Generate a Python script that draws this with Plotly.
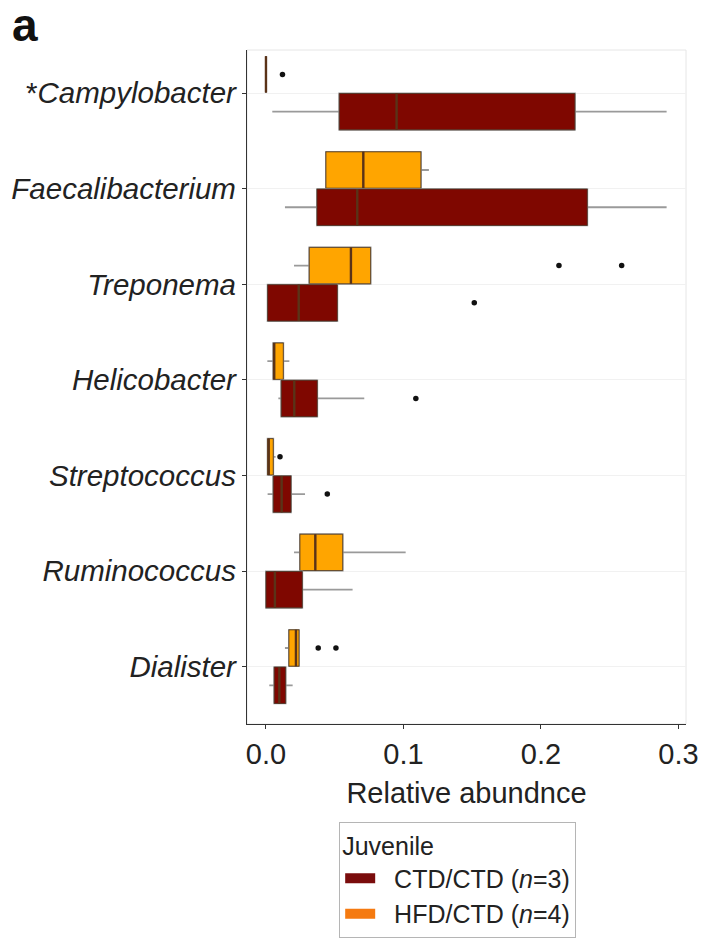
import plotly.graph_objects as go

# ---------------- data ----------------
genera = ["*Campylobacter", "Faecalibacterium", "Treponema", "Helicobacter",
          "Streptococcus", "Ruminococcus", "Dialister"]
x_tick_vals = [0.0, 0.1, 0.2, 0.3]
x_tick_text = ["0.0", "0.1", "0.2", "0.3"]

# CTD/CTD (n=3)
ctd_low = [0.0046, 0.0138, 0.0012, 0.0090, 0.0012, 0.0000, 0.0024]
ctd_q1 = [0.0533, 0.0371, 0.0012, 0.0111, 0.0053, 0.0000, 0.0060]
ctd_med = [0.0950, 0.0664, 0.0238, 0.0206, 0.0114, 0.0065, 0.0097]
ctd_q3 = [0.2247, 0.2337, 0.0519, 0.0373, 0.0182, 0.0264, 0.0143]
ctd_high = [0.2914, 0.2914, 0.0519, 0.0715, 0.0284, 0.0630, 0.0194]
ctd_out_genus = ["Treponema", "Helicobacter", "Streptococcus"]
ctd_out_val = [0.1515, 0.1090, 0.0446]

# HFD/CTD (n=4)
hfd_low = [0.0000, 0.0436, 0.0204, 0.0010, 0.0012, 0.0204, 0.0138]
hfd_q1 = [0.0000, 0.0436, 0.0315, 0.0053, 0.0012, 0.0247, 0.0167]
hfd_med = [0.0000, 0.0708, 0.0618, 0.0060, 0.0020, 0.0359, 0.0218]
hfd_q3 = [0.0000, 0.1127, 0.0761, 0.0126, 0.0053, 0.0558, 0.0240]
hfd_high = [0.0000, 0.1185, 0.0761, 0.0170, 0.0070, 0.1016, 0.0240]
hfd_out_genus = ["*Campylobacter", "Treponema", "Treponema", "Streptococcus",
                 "Dialister", "Dialister"]
hfd_out_val = [0.0120, 0.2131, 0.2587, 0.0102, 0.0380, 0.0509]

# ---------------- styling ----------------
FONT = "Liberation Sans, Arial, Helvetica, sans-serif"
CTD_FILL = "#7F0700"
HFD_FILL = "#FFA500"
CTD_LEG = "#7A0C0C"
HFD_LEG = "#F57A10"
WHISKER = "#9a9a9a"
OUTLINE = "#4a3526"
MEDIAN = "#5a3318"
BOX_W = 0.38
OFFSET = 0.195

idx = {g: i for i, g in enumerate(genera)}
fig = go.Figure()


def add_group(low, q1, med, q3, high, out_g, out_v, fill, off):
    pos = [i + off for i in range(len(genera))]
    common = dict(orientation="h", y=pos, width=BOX_W, whiskerwidth=0,
                  boxpoints=False, showlegend=False, hoverinfo="skip")
    # whiskers (grey)
    fig.add_trace(go.Box(q1=q1, median=med, q3=q3, lowerfence=low,
                         upperfence=high, fillcolor=fill,
                         line=dict(color=WHISKER, width=1.8), **common))
    # box outline (dark, thin)
    fig.add_trace(go.Box(q1=q1, median=med, q3=q3, lowerfence=q1,
                         upperfence=q3, fillcolor=fill,
                         line=dict(color=OUTLINE, width=0.8), **common))
    # median (thicker)
    fig.add_trace(go.Box(q1=med, median=med, q3=med, lowerfence=med,
                         upperfence=med, fillcolor="rgba(0,0,0,0)",
                         line=dict(color=MEDIAN, width=2.4), **common))
    fig.add_trace(go.Scatter(x=out_v, y=[idx[g] + off for g in out_g],
                             mode="markers", showlegend=False,
                             marker=dict(color="#111111", size=5.5)))


add_group(hfd_low, hfd_q1, hfd_med, hfd_q3, hfd_high,
          hfd_out_genus, hfd_out_val, HFD_FILL, -OFFSET)
add_group(ctd_low, ctd_q1, ctd_med, ctd_q3, ctd_high,
          ctd_out_genus, ctd_out_val, CTD_FILL, OFFSET)

# legend entries
NB = "\u00a0\u00a0"
fig.add_trace(go.Scatter(x=[None], y=[None], mode="lines",
                         line=dict(color=CTD_LEG, width=17),
                         name=NB + "CTD/CTD (<i>n</i>=3)"))
fig.add_trace(go.Scatter(x=[None], y=[None], mode="lines",
                         line=dict(color=HFD_LEG, width=17),
                         name=NB + "HFD/CTD (<i>n</i>=4)"))

tick_text_y = [("*<i>%s</i>" % g[1:]) if g.startswith("*") else "<i>%s</i>" % g
               for g in genera]

fig.update_layout(
    width=702, height=943,
    margin=dict(l=247, r=16, t=50, b=219, autoexpand=False),
    paper_bgcolor="white", plot_bgcolor="white",
    font=dict(family=FONT, color="#222222", size=29),
    boxmode="overlay",
    xaxis=dict(range=[-0.0138, 0.3055], tickvals=x_tick_vals,
               ticktext=x_tick_text, ticks="outside", ticklen=4,
               tickcolor="#333333", showline=True, linecolor="#333333",
               linewidth=1.3, showgrid=False, zeroline=False,
               automargin=False, tickfont=dict(size=29),
               title=dict(text="Relative abundnce", font=dict(size=29),
                          standoff=13)),
    yaxis=dict(range=[6.6, -0.45], tickvals=list(range(len(genera))),
               ticktext=tick_text_y, ticks="outside", ticklen=4,
               tickcolor="#333333", showline=True, linecolor="#333333",
               linewidth=1.3, showgrid=True, gridcolor="#f1f1f1",
               zeroline=False, automargin=False, tickfont=dict(size=29.5),
               ticklabelstandoff=0),
    legend=dict(title=dict(text="Juvenile", font=dict(size=25)),
                font=dict(size=25), x=0.21, y=-0.1454, xanchor="left",
                yanchor="top", bordercolor="#b5b5b5", borderwidth=1,
                bgcolor="white"),
    shapes=[dict(type="rect", xref="paper", yref="paper", x0=0, x1=1,
                 y0=0, y1=1, line=dict(color="#e6e6e6", width=1),
                 layer="below")],
    annotations=[dict(text="<b>a</b>", xref="paper", yref="paper",
                      x=-0.54, y=0.9955, xanchor="left", yanchor="bottom",
                      showarrow=False, font=dict(size=46, color="#111111"))],
)

# remove the browser's default 8px page margin so the figure fills the window
fig.write_html("out.html", config={"displayModeBar": False},
               post_script="document.body.style.margin='0';")
